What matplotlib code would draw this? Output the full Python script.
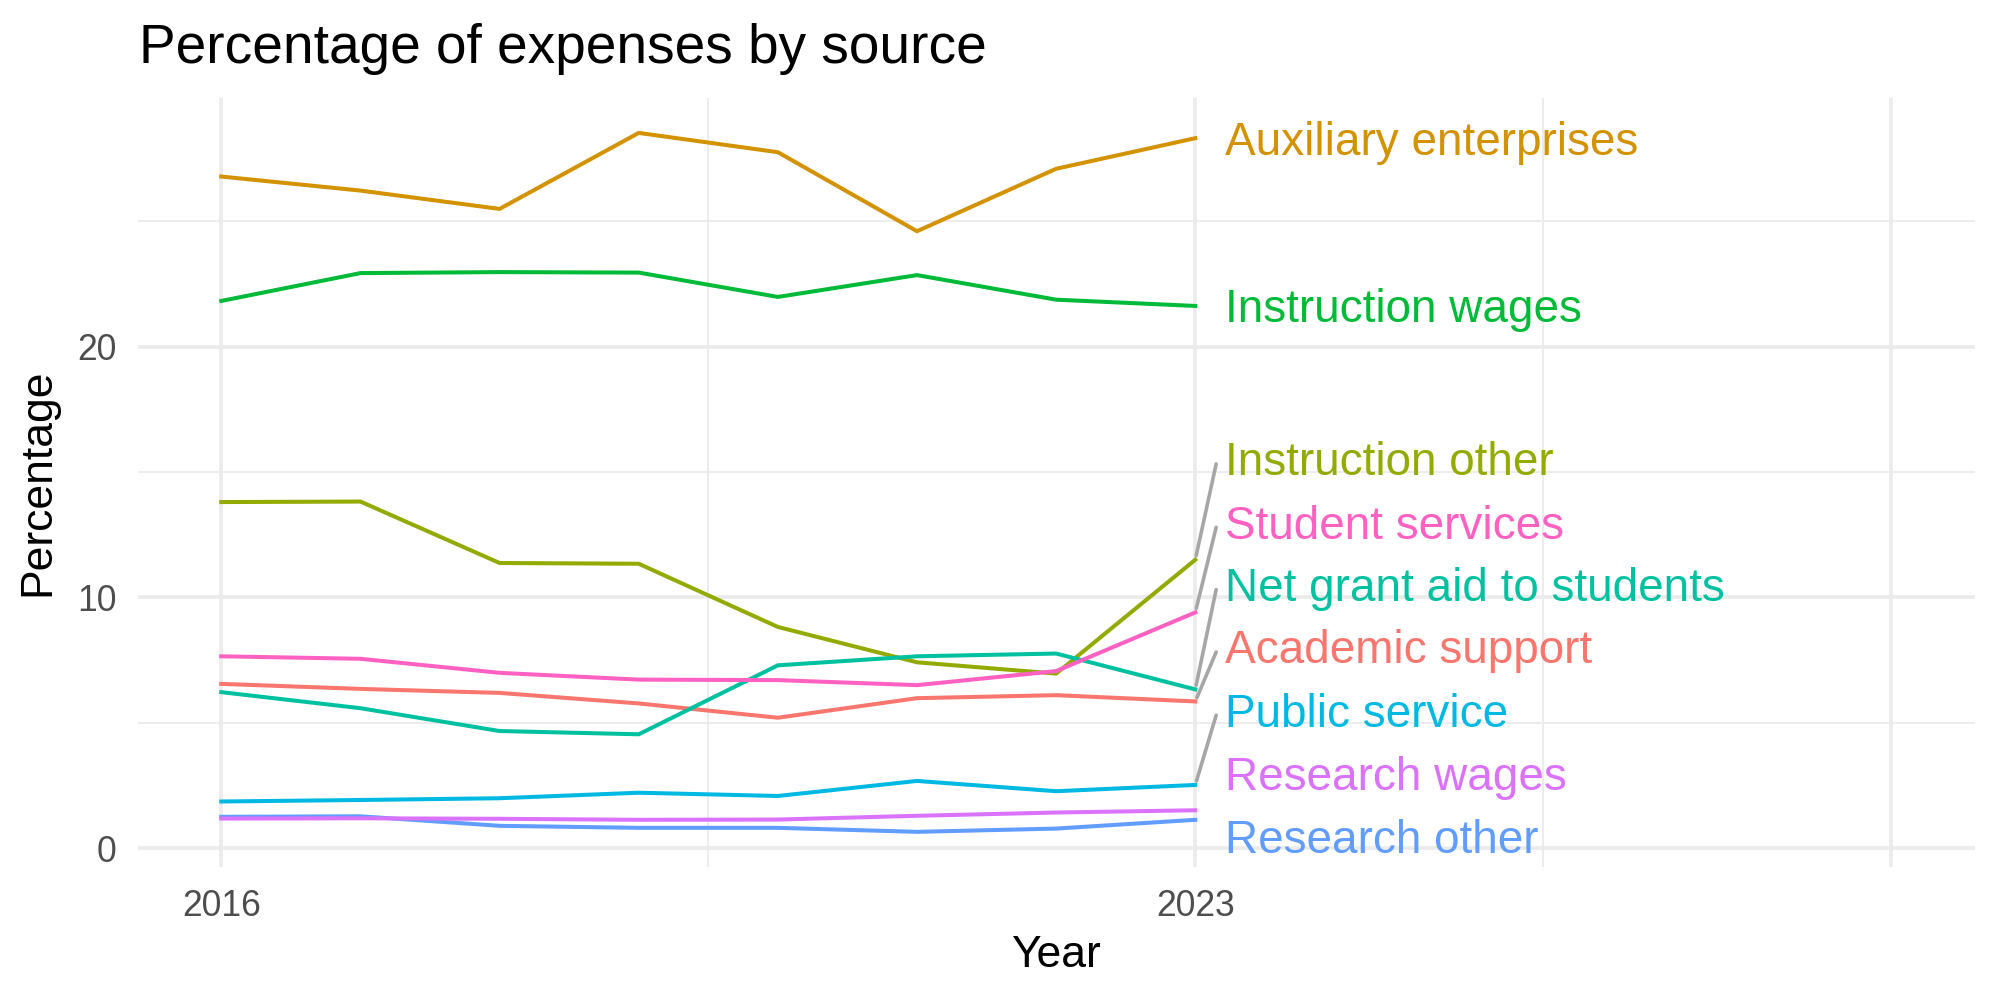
import matplotlib
matplotlib.use("Agg")
import matplotlib.pyplot as plt
import matplotlib.transforms as mtransforms

plt.rcParams['font.family'] = ['Liberation Sans', 'DejaVu Sans']

years = [2016, 2017, 2018, 2019, 2020, 2021, 2022, 2023]

categories = [
    "Academic support", "Auxiliary enterprises", "Instruction other",
    "Instruction wages", "Net grant aid to students", "Public service",
    "Research other", "Research wages", "Student services",
]

academic_support = [6.55, 6.35, 6.19, 5.77, 5.20, 5.98, 6.10, 5.85]
auxiliary_enterprises = [26.78, 26.22, 25.49, 28.52, 27.75, 24.60, 27.09, 28.31]
instruction_other = [13.80, 13.82, 11.37, 11.34, 8.82, 7.41, 6.96, 11.50]
instruction_wages = [21.82, 22.93, 22.97, 22.95, 21.98, 22.85, 21.87, 21.62]
net_grant_aid = [6.22, 5.58, 4.67, 4.54, 7.29, 7.65, 7.76, 6.33]
public_service = [1.86, 1.92, 1.99, 2.21, 2.08, 2.68, 2.27, 2.52]
research_other = [1.25, 1.27, 0.89, 0.81, 0.81, 0.65, 0.78, 1.13]
research_wages = [1.18, 1.19, 1.17, 1.13, 1.14, 1.29, 1.42, 1.51]
student_services = [7.65, 7.55, 6.99, 6.72, 6.70, 6.50, 7.06, 9.40]

series = [academic_support, auxiliary_enterprises, instruction_other,
          instruction_wages, net_grant_aid, public_service,
          research_other, research_wages, student_services]

colors = ["#F8766D", "#D39200", "#93AA00", "#00BA38", "#00C19F",
          "#00B9E3", "#619CFF", "#DB72FB", "#FF61C3"]

# repelled label positions (layout)
label_y = [8.02, 28.31, 15.52, 21.62, 10.51, 5.50, 0.47, 2.98, 12.99]
has_segment = [True, False, True, False, True, True, False, False, True]

x_ticks = [2016, 2023]
x_tick_labels = ["2016", "2023"]
y_ticks = [0, 10, 20]

fig = plt.figure(figsize=(10, 5), dpi=200)
ax = fig.add_axes([0.0689, 0.1333, 0.91835, 0.7684])
ax.set_facecolor("white")
for s in ax.spines.values():
    s.set_visible(False)

ax.set_xlim(2015.4, 2028.6)
ax.set_ylim(-0.74, 29.9)

grid_col = "#EBEBEB"
for xv in [2016, 2023, 2028]:
    ax.axvline(xv, color=grid_col, lw=1.3, zorder=0)
for xv in [2019.5, 2025.5]:
    ax.axvline(xv, color=grid_col, lw=0.65, zorder=0)
for yv in [0, 10, 20]:
    ax.axhline(yv, color=grid_col, lw=1.3, zorder=0)
for yv in [5, 15, 25]:
    ax.axhline(yv, color=grid_col, lw=0.65, zorder=0)

for vals, col in zip(series, colors):
    ax.plot(years, vals, color=col, lw=1.45, solid_joinstyle='miter', zorder=2)

label_x = 2023.21
seg_x = 2023.15
offset = mtransforms.ScaledTranslation(0, -5.9 / 72, fig.dpi_scale_trans)
for name, vals, col, ly, seg in zip(categories, series, colors, label_y, has_segment):
    if seg:
        ax.annotate("", xy=(years[-1], vals[-1]), xytext=(seg_x, ly - 0.2),
                    arrowprops=dict(arrowstyle='-', color='#A6A6A6', lw=1.3,
                                    shrinkA=0, shrinkB=1.5),
                    zorder=3)
    ax.text(label_x, ly, name, color=col, fontsize=16.5, ha='left', va='baseline',
            transform=ax.transData + offset, zorder=4)

ax.set_xticks(x_ticks)
ax.set_xticklabels(x_tick_labels)
ax.set_yticks(y_ticks)
ax.set_yticklabels([str(v) for v in y_ticks])
ax.tick_params(axis='both', length=0, labelsize=12.8, labelcolor='#4D4D4D')
ax.tick_params(axis='x', pad=8.0)
ax.tick_params(axis='y', pad=7.6)

fig.text(1056 / 2000, 1 - 967.3 / 1000, "Year", ha='center', va='baseline',
         fontsize=16, color='black')
fig.text(38 / 2000, 0.5175, "Percentage", ha='center', va='center',
         rotation=90, fontsize=16, color='black')
fig.text(0.0695, 1 - 63.3 / 1000, "Percentage of expenses by source",
         ha='left', va='baseline', fontsize=19.8, color='black')

fig.savefig("out.png", dpi=200, facecolor='white')
